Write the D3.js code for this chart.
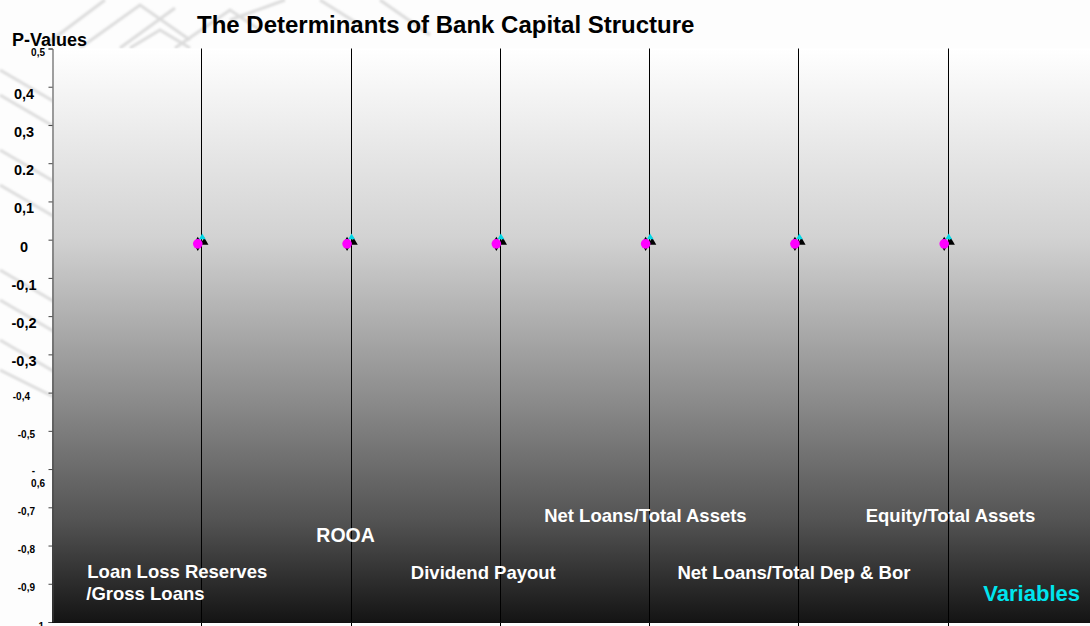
<!DOCTYPE html>
<html>
<head>
<meta charset="utf-8">
<script src="https://cdn.jsdelivr.net/npm/d3@7"></script>
<style>
  body { margin: 0; background: #ffffff; }
  svg text { font-family: "Liberation Sans", Arial, sans-serif; font-weight: bold; }
</style>
</head>
<body>
<div id="chart"></div>
<script>
// data
var categories = ["Loan Loss Reserves\n/Gross Loans", "ROOA", "Dividend Payout",
    "Net Loans/Total Assets", "Net Loans/Total Dep & Bor", "Equity/Total Assets"];
var seriesTriangle = [-0.007, -0.007, -0.007, -0.007, -0.007, -0.007];
var seriesCyan = [0.006, 0.006, 0.006, 0.006, 0.006, 0.006];
var seriesPink = [-0.011, -0.011, -0.011, -0.011, -0.011, -0.011];
var yTicks = [0.5, 0.4, 0.3, 0.2, 0.1, 0, -0.1, -0.2, -0.3, -0.4, -0.5, -0.6, -0.7, -0.8, -0.9, -1];
var yTickLabels = ["0,5", "0,4", "0,3", "0.2", "0,1", "0", "-0,1", "-0,2", "-0,3",
    "-0,4", "-0,5", "-\n0,6", "-0,7", "-0,8", "-0,9", "-1"];

var w = 1090, h = 626;
var plotTop = 48.5, plotBottom = 622, plotLeft = 52;

var svg = d3.select("#chart").append("svg")
    .attr("width", w)
    .attr("height", h);

var defs = svg.append("defs");
var grad = defs.append("linearGradient").attr("id", "bg").attr("x1", 0).attr("y1", 0).attr("x2", 0).attr("y2", 1);
[[0, "#ffffff"], [0.33, "#d2d2d2"], [0.61, "#8c8c8c"], [0.82, "#545454"], [1, "#141414"]].forEach(function(s) {
    grad.append("stop").attr("offset", s[0]).attr("stop-color", s[1]);
});
defs.append("filter").attr("id", "blur").append("feGaussianBlur").attr("stdDeviation", 1.3);

// page background + faint watermark at the top-left
svg.append("rect").attr("x", 0).attr("y", 0).attr("width", w).attr("height", h).attr("fill", "#fdfdfd");
var wm = svg.append("g").attr("filter", "url(#blur)").attr("stroke", "#dcdcdc").attr("stroke-width", 3).attr("fill", "none");
[
    "M0,70 L60,105", "M0,95 L60,130", "M0,150 L60,185", "M0,185 L60,220", "M0,270 L60,305",
    "M0,300 L60,335", "M0,340 L60,375", "M0,370 L60,400",
    "M45,45 L105,0", "M80,48 L140,5 L190,40", "M120,48 L175,8",
    "M230,20 L285,0", "M175,48 L230,10 L260,30", "M380,0 L430,35", "M320,0 L360,25",
    "M130,48 L160,30 L190,48"
].forEach(function(d) { wm.append("path").attr("d", d); });

// scales
var x = d3.scaleLinear().domain([0, 7]).range([plotLeft, 1097]);
var y = d3.scaleLinear().domain([-1, 0.5]).range([plotBottom, plotTop]);

// plot area
svg.append("rect")
    .attr("x", plotLeft).attr("y", plotTop)
    .attr("width", 1097 - plotLeft).attr("height", plotBottom - plotTop)
    .attr("fill", "url(#bg)");

// category lines
svg.selectAll(".vline").data(categories).enter().append("line")
    .attr("x1", function(d, i) { return Math.round(x(i + 1)) + 0.5; })
    .attr("x2", function(d, i) { return Math.round(x(i + 1)) + 0.5; })
    .attr("y1", plotTop).attr("y2", plotBottom + 4)
    .attr("stroke", "#000").attr("stroke-width", 1);

// y axis
var yAxis = svg.append("g")
    .attr("transform", "translate(" + (plotLeft + 0.5) + ",0)")
    .call(d3.axisLeft(y).tickValues(yTicks).tickSize(4).tickFormat(""));
yAxis.select(".domain").attr("stroke", "#444");
yAxis.selectAll(".tick line").attr("stroke", "#444");

// tick labels (original mixes sizes)
var small = ["0,5", "-0,4", "-0,5", "-\n0,6", "-0,7", "-0,8", "-0,9", "-1"];
var endX = { "0,5": 45, "-0,4": 30, "-\n0,6": 45, "-1": 44 };
svg.selectAll(".ylab").data(yTicks).enter().append("text")
    .attr("font-size", function(d, i) { return small.indexOf(yTickLabels[i]) >= 0 ? 10 : 14.5; })
    .attr("text-anchor", function(d, i) { return small.indexOf(yTickLabels[i]) >= 0 ? "end" : "middle"; })
    .attr("x", function(d, i) {
        var t = yTickLabels[i];
        if (small.indexOf(t) < 0) return 24;
        return endX[t] || 35;
    })
    .attr("y", function(d, i) { return y(d) + (small.indexOf(yTickLabels[i]) >= 0 ? 7.5 : 12); })
    .attr("fill", "#000")
    .each(function(d, i) {
        var lines = yTickLabels[i].split("\n");
        var el = d3.select(this);
        if (lines.length > 1) {
            el.attr("y", y(d) + 17.5);
            el.append("tspan").attr("x", 35).attr("dy", -13).text(lines[0]);
            el.append("tspan").attr("x", 45).attr("dy", 13).text(lines[1]);
        } else {
            el.text(lines[0]);
        }
    });

// x axis baseline
svg.append("line").attr("x1", plotLeft).attr("x2", w).attr("y1", plotBottom + 0.5).attr("y2", plotBottom + 0.5)
    .attr("stroke", "#111");

// markers
var g = svg.append("g");
g.selectAll(".tri").data(seriesTriangle).enter().append("path")
    .attr("d", d3.symbol().type(d3.symbolTriangle).size(30))
    .attr("transform", function(d, i) { return "translate(" + (x(i + 1) + 3) + "," + y(d) + ")"; })
    .attr("fill", "#000");
g.selectAll(".cyan").data(seriesCyan).enter().append("path")
    .attr("d", d3.symbol().type(d3.symbolTriangle).size(20))
    .attr("transform", function(d, i) { return "translate(" + (x(i + 1) + 1) + "," + y(d) + ")"; })
    .attr("fill", "#00d8e8");
g.selectAll(".dia").data(seriesPink).enter().append("path")
    .attr("d", d3.symbol().type(d3.symbolDiamond).size(60))
    .attr("transform", function(d, i) { return "translate(" + (x(i + 1) - 3.5) + "," + y(d) + ")"; })
    .attr("fill", "#000");
g.selectAll(".pink").data(seriesPink).enter().append("circle")
    .attr("cx", function(d, i) { return x(i + 1) - 3.5; })
    .attr("cy", function(d) { return y(d); })
    .attr("r", 4.8)
    .attr("fill", "#ff00ff");

// category labels, staggered as in the original
var labelPos = [
    { dx: -114, y: 578, size: 18.5, anchor: "start" },
    { dx: -5, y: 542, size: 19.5, anchor: "middle" },
    { dx: -89, y: 579, size: 18.5, anchor: "start" },
    { dx: -105, y: 522, size: 18.5, anchor: "start" },
    { dx: -121, y: 579, size: 18.5, anchor: "start" },
    { dx: -82, y: 522, size: 18.5, anchor: "start" }
];
svg.selectAll(".cat").data(categories).enter().append("text")
    .attr("fill", "#fff")
    .attr("font-size", function(d, i) { return labelPos[i].size; })
    .attr("text-anchor", function(d, i) { return labelPos[i].anchor; })
    .attr("y", function(d, i) { return labelPos[i].y; })
    .each(function(d, i) {
        var el = d3.select(this);
        var px = x(i + 1) + labelPos[i].dx;
        d.split("\n").forEach(function(t, k) {
            el.append("tspan").attr("x", px - k).attr("dy", k === 0 ? 0 : 22).text(t);
        });
    });

// titles
svg.append("text").text("The Determinants of Bank Capital Structure")
    .attr("x", 197).attr("y", 33).attr("font-size", 24).attr("fill", "#000");
svg.append("text").text("P-Values")
    .attr("x", 12).attr("y", 46).attr("font-size", 18).attr("fill", "#000");
svg.append("text").text("Variables")
    .attr("x", 1080).attr("y", 601).attr("text-anchor", "end")
    .attr("font-size", 22).attr("fill", "#00e5ee");
</script>
</body>
</html>
